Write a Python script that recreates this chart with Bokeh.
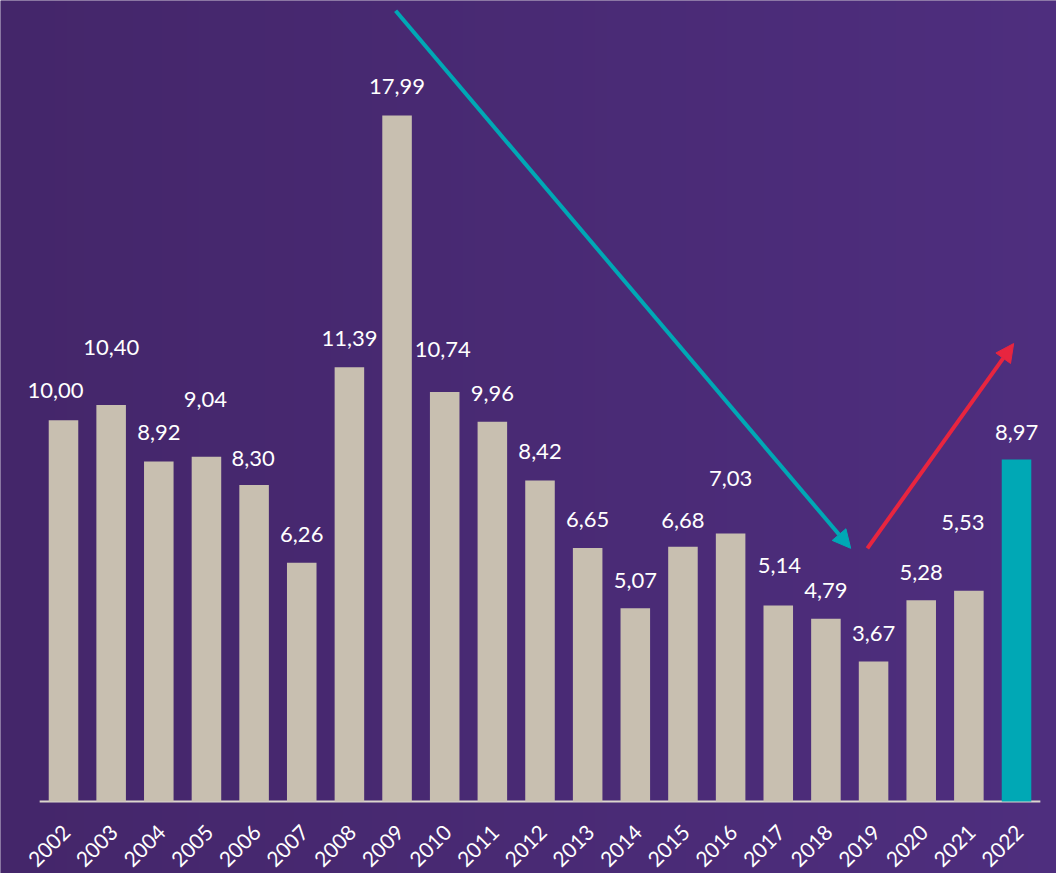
import math
import numpy as np
from bokeh.plotting import figure
from bokeh.models import Range1d, Arrow, NormalHead, ColumnDataSource
from bokeh.core.properties import value
from bokeh.embed import file_html
from bokeh.resources import INLINE

years = ["2002", "2003", "2004", "2005", "2006", "2007", "2008", "2009", "2010", "2011",
         "2012", "2013", "2014", "2015", "2016", "2017", "2018", "2019", "2020", "2021", "2022"]
values = [10.00, 10.40, 8.92, 9.04, 8.30, 6.26, 11.39, 17.99, 10.74, 9.96,
          8.42, 6.65, 5.07, 6.68, 7.03, 5.14, 4.79, 3.67, 5.28, 5.53, 8.97]
value_labels = ["10,00", "10,40", "8,92", "9,04", "8,30", "6,26", "11,39", "17,99", "10,74", "9,96",
                "8,42", "6,65", "5,07", "6,68", "7,03", "5,14", "4,79", "3,67", "5,28", "5,53", "8,97"]

# arrows (data coordinates: x = bar index, y = value)
down_arrow_start = (6.97, 20.74)
down_arrow_end = (16.52, 6.64)
up_arrow_start = (16.87, 6.64)
up_arrow_end = (19.94, 12.01)

# label styling (pixel lifts above bar tops and horizontal nudges)
label_lift = [30, 57, 29, 57, 27, 28, 29, 29, 42, 28, 29, 28, 28, 26, 55, 40, 28, 28, 28, 68, 27]
label_nudge = [-8, 0, 0, -1, -1, 0, 0, 0, -2, 0, 0, 0, 0, 0, 0, 1, 0, 0, 0, -6, 0]

BG_LEFT = (0x44, 0x26, 0x6a)
BG_RIGHT = (0x4e, 0x2e, 0x7e)
BEIGE = "#c8bfb0"
TEAL = "#00a8b5"
RED = "#e8253f"
AXIS = "#dcd6ce"

X0, X1 = -1.322, 20.839
Y0, Y1 = -1.888, 21.007

idx = list(range(len(years)))
colors = [BEIGE] * (len(years) - 1) + [TEAL]

src = ColumnDataSource(dict(
    x=idx, top=values, color=colors, label=value_labels, year=years,
    yoff=[-l for l in label_lift], xoff=label_nudge,
))

p = figure(width=1056, height=873, output_backend="svg", toolbar_location=None,
           x_range=Range1d(X0, X1), y_range=Range1d(Y0, Y1),
           x_axis_location=None, y_axis_location=None,
           min_border_left=0, min_border_right=0, min_border_top=0, min_border_bottom=0)
p.background_fill_color = "#49296f"
p.border_fill_color = "#49296f"
p.outline_line_color = None
p.grid.visible = False

# background gradient (left -> right)
n = 256
t = np.linspace(0, 1, n)
img = np.zeros((1, n), dtype=np.uint32)
view = img.view(dtype=np.uint8).reshape((1, n, 4))
for k in range(3):
    view[0, :, k] = np.round(BG_LEFT[k] + (BG_RIGHT[k] - BG_LEFT[k]) * t).astype(np.uint8)
view[0, :, 3] = 255
p.image_rgba(image=[img], x=X0, y=Y0, dw=X1 - X0, dh=Y1 - Y0)

# baseline (axis line) spanning the bar bands
p.segment(x0=[idx[0] - 0.5], x1=[idx[-1] + 0.5], y0=[0], y1=[0], line_color=AXIS, line_width=2)

p.vbar(x="x", top="top", width=0.62, bottom=0, fill_color="color", line_color=None, source=src)

p.text(x="x", y="top", text="label", x_offset="xoff", y_offset="yoff", source=src,
       text_align="center", text_baseline="middle", text_color="white",
       text_font=value("Lato"), text_font_size="22px")

# year tick labels, rotated 45 degrees
p.text(x="x", y=0, text="year", source=src, angle=math.pi / 4,
       x_offset=3, y_offset=27,
       text_align="right", text_baseline="middle", text_color="white",
       text_font=value("Lato"), text_font_size="21px")

p.add_layout(Arrow(end=NormalHead(size=18, fill_color=TEAL, line_color=TEAL),
                   x_start=down_arrow_start[0], y_start=down_arrow_start[1],
                   x_end=down_arrow_end[0], y_end=down_arrow_end[1],
                   line_color=TEAL, line_width=4))
p.add_layout(Arrow(end=NormalHead(size=18, fill_color=RED, line_color=RED),
                   x_start=up_arrow_start[0], y_start=up_arrow_start[1],
                   x_end=up_arrow_end[0], y_end=up_arrow_end[1],
                   line_color=RED, line_width=4))

open("out.html", "w").write(file_html(p, INLINE))
